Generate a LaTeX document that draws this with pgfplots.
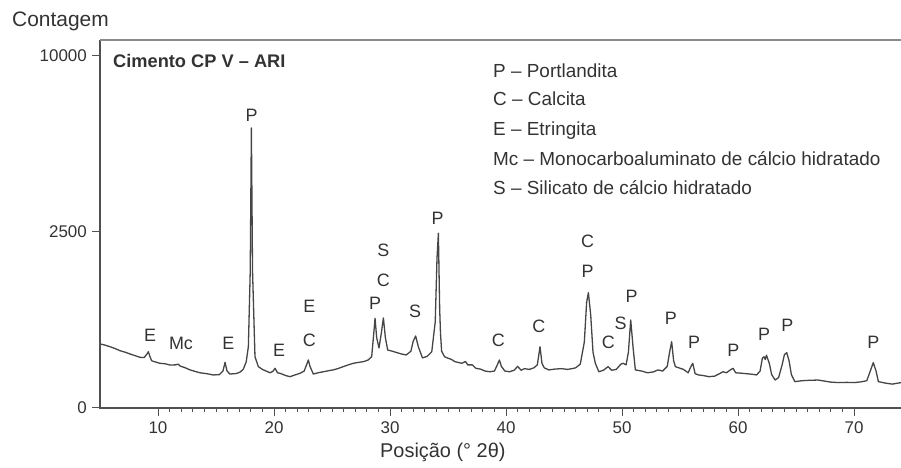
\documentclass[border=0pt]{standalone}
\usepackage{fontspec}
\setmainfont{Liberation Sans}
\usepackage{pgfplots}
\usepackage{pgfplotstable}
\pgfplotsset{compat=1.18}

\definecolor{ink}{HTML}{333333}
\definecolor{trace}{HTML}{454545}
\definecolor{frame}{HTML}{505050}
\definecolor{topframe}{HTML}{8A8A8A}

% Difratograma: posicao (graus 2theta) x contagem
\pgfplotstableread{
tt   cnt
5.0  331
5.4  320
5.86 303
6.3  285
6.72 265
7.2  250
7.59 235
8.0  222
8.45 207
8.8  205
9.05 235
9.17 256
9.3  215
9.45 180
9.8  170
10.17 161
10.6 158
11.03 149
11.5 150
11.75 155
11.9 142
12.3 132
12.76 117
13.2 108
13.62 100
14.2 95
14.77 88
15.3 90
15.6 110
15.78 168
15.95 110
16.2 93
16.78 96
17.1 105
17.35 121
17.6 170
17.79 303
17.95 1500
18.05 6325
18.15 1500
18.36 212
18.65 138
19.0 120
19.66 100
19.9 108
20.09 127
20.3 100
20.52 97
21.0 85
21.38 79
21.8 88
22.24 97
22.6 110
22.85 160
22.96 186
23.1 140
23.39 93
23.8 100
24.25 106
24.7 112
25.1 117
25.5 125
25.97 138
26.4 150
26.84 161
27.3 168
27.7 173
28.1 185
28.42 212
28.6 450
28.71 649
28.85 400
29.05 291
29.25 450
29.43 654
29.6 400
29.8 271
30.2 260
30.6 247
31.0 235
31.4 227
31.8 260
32.0 360
32.21 418
32.45 300
32.8 202
33.2 215
33.6 256
33.9 600
34.05 1800
34.17 2462
34.28 800
34.35 454
34.45 260
34.7 212
35.0 200
35.3 190
35.6 173
36.0 165
36.2 161
36.5 175
36.7 150
37.1 150
37.4 127
37.8 122
38.2 110
38.6 106
39.0 110
39.25 150
39.43 186
39.6 140
39.9 110
40.3 106
40.7 115
41.0 140
41.3 115
41.6 125
42.0 120
42.4 130
42.7 150
42.93 303
43.1 160
43.3 130
43.7 117
44.2 122
44.8 125
45.3 120
45.7 125
46.0 130
46.4 155
46.75 350
46.95 900
47.1 1073
47.3 700
47.5 250
47.7 161
48.0 106
48.4 115
48.8 138
49.1 115
49.5 120
49.9 155
50.1 161
50.35 150
50.55 250
50.75 625
50.95 300
51.15 117
51.7 110
52.2 100
52.7 105
53.1 117
53.5 110
53.9 140
54.1 250
54.28 355
54.45 180
54.6 138
54.9 130
55.3 120
55.7 100
55.95 140
56.1 161
56.3 95
56.6 88
57.0 85
57.5 79
58.0 82
58.4 95
58.7 106
59.0 100
59.4 120
59.57 127
59.8 100
60.2 98
60.7 95
61.2 92
61.6 88
61.9 110
62.1 200
62.24 212
62.35 190
62.45 225
62.7 160
62.9 90
63.2 63
63.5 75
63.8 150
64.0 230
64.2 247
64.4 180
64.6 90
64.9 56
65.5 60
66.2 62
66.9 63
67.5 58
68.0 54
68.7 52
69.4 53
70.0 52
70.6 55
71.1 60
71.4 110
71.66 166
71.9 110
72.1 56
72.7 50
73.3 46
73.8 50
74.05 52
}\xrd

\begin{document}
\begin{tikzpicture}
\useasboundingbox (0,0) rectangle (901bp,468bp);
\begin{axis}[
  at={(100bp,60bp)}, anchor=south west,
  scale only axis, width=801bp, height=368bp,
  xmin=5, xmax=74.05, ymin=0, ymax=10920,
  y coord trafo/.code={\pgfmathparse{sqrt(#1)}},
  y coord inv trafo/.code={\pgfmathparse{(#1)^2}},
  clip=false,
  axis line style={draw=none},
  tick pos=left, tick align=outside,
  xtick={10,20,...,70}, minor x tick num=9,
  ytick={0,2500,10000}, yticklabels={0,2500,10000},
  major tick length=8bp, minor tick length=4.5bp,
  every tick/.style={frame, line width=1bp},
  /pgf/number format/assume math mode=true,
  ticklabel style={font=\fontsize{17}{20}\selectfont, text=ink, inner sep=0pt},
  xticklabel style={yshift=-5bp},
  yticklabel style={xshift=-5bp},
]
\addplot[trace, line width=1.3bp, line join=round] table[x=tt, y=cnt] {\xrd};

\draw[frame, line width=1.6bp] (rel axis cs:0,1) -- (rel axis cs:0,0) -- (rel axis cs:1.02,0);
\draw[topframe, line width=2bp] (rel axis cs:0,1) -- (rel axis cs:1.02,1);

\begin{scope}[every node/.style={font=\fontsize{18}{21}\selectfont, text=ink, inner sep=0pt, anchor=center}]
\node at (axis cs:18.07,6929) {P};
\node at (axis cs:9.31,430) {E};
\node at (axis cs:11.98,338) {Mc};
\node at (axis cs:16.06,338) {E};
\node at (axis cs:20.43,271) {E};
\node at (axis cs:23.04,828) {E};
\node at (axis cs:23.04,373) {C};
\node at (axis cs:28.71,885) {P};
\node at (axis cs:29.43,1322) {C};
\node at (axis cs:29.43,2015) {S};
\node at (axis cs:32.16,748) {S};
\node at (axis cs:34.11,2905) {P};
\node at (axis cs:39.34,373) {C};
\node at (axis cs:42.84,533) {C};
\node at (axis cs:47.04,1499) {P};
\node at (axis cs:47.04,2232) {C};
\node at (axis cs:48.82,344) {C};
\node at (axis cs:49.88,579) {S};
\node at (axis cs:50.83,1000) {P};
\node at (axis cs:54.22,649) {P};
\node at (axis cs:56.21,344) {P};
\node at (axis cs:59.59,271) {P};
\node at (axis cs:62.24,442) {P};
\node at (axis cs:64.25,556) {P};
\node at (axis cs:71.66,344) {P};
\end{scope}
\end{axis}

% titulos e chave das fases
\begin{scope}[every node/.style={text=ink, inner sep=0pt}]
\node[anchor=base west, font=\fontsize{21}{24}\selectfont] at (12bp,441.5bp) {Contagem};
\node[anchor=base west, font=\fontsize{20}{24}\selectfont] at (380bp,10.3bp) {Posição (° 2θ)};
\node[anchor=base west, font=\bfseries\fontsize{18.3}{21}\selectfont] at (113bp,400bp) {Cimento CP V – ARI};
\begin{scope}[every node/.append style={anchor=base west, font=\fontsize{19}{22}\selectfont}]
\node at (493bp,390.2bp) {P – Portlandita};
\node at (493bp,362.2bp) {C – Calcita};
\node at (493bp,332.2bp) {E – Etringita};
\node at (493bp,302.2bp) {Mc – Monocarboaluminato de cálcio hidratado};
\node at (493bp,273.2bp) {S – Silicato de cálcio hidratado};
\end{scope}
\end{scope}
\end{tikzpicture}
\end{document}
